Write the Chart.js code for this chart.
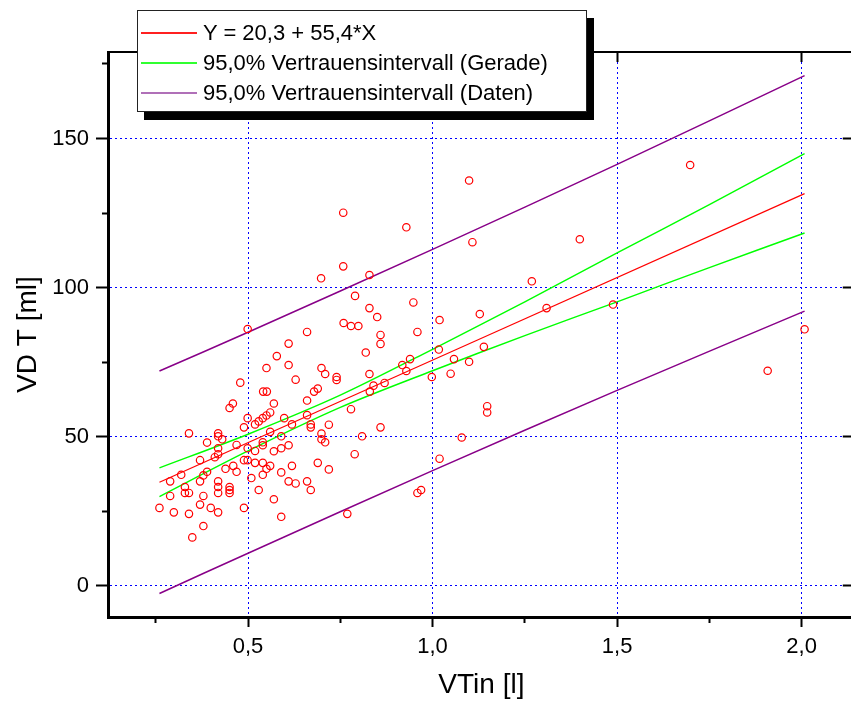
<!DOCTYPE html>
<html>
<head>
<meta charset="utf-8">
<script src="https://cdn.jsdelivr.net/npm/chart.js@4/dist/chart.umd.min.js"></script>
<style>
html,body{margin:0;padding:0;background:#fff;overflow:hidden;width:851px;height:701px;}
#wrap{position:relative;width:851px;height:701px;overflow:hidden;}
#c{position:absolute;left:0;top:0;}
#legend{position:absolute;left:137px;top:10px;width:448px;height:100px;border:1px solid #222;background:#fff;box-shadow:7px 8px 0 #000;font-family:"Liberation Sans",Arial,sans-serif;font-size:22px;color:#000;}
.row{position:absolute;left:0;width:440px;height:30px;}
.sw{position:absolute;left:3px;top:14px;width:56px;height:2px;}
.lbl{position:absolute;left:65px;top:0;line-height:30px;white-space:nowrap;}
</style>
</head>
<body>
<div id="wrap">
<canvas id="c" width="860" height="701"></canvas>
<div id="legend"></div>
</div>
<script>
// ---- data ----
const vtin = [0.499,0.610,0.578,0.610,0.550,0.629,0.479,0.541,0.551,0.459,0.450,0.570,0.499,0.489,0.519,0.529,0.540,0.550,0.560,0.598,
0.619,0.340,0.419,0.419,0.430,0.389,0.469,0.419,0.419,0.410,0.370,0.499,0.519,0.540,0.540,0.560,0.570,0.590,0.590,0.610,
0.489,0.499,0.519,0.540,0.560,0.550,0.460,0.439,0.469,0.540,0.509,0.319,0.289,0.329,0.329,0.340,0.370,0.379,0.389,0.419,
0.419,0.419,0.450,0.450,0.450,0.289,0.379,0.529,0.570,0.260,0.370,0.399,0.299,0.340,0.419,0.489,0.379,0.349,0.590,0.610,
0.629,0.590,0.619,0.660,0.670,0.719,0.769,0.829,0.948,0.850,0.759,0.779,0.799,0.660,0.959,0.859,0.859,0.819,0.699,0.709,
0.740,0.740,0.829,0.918,0.939,0.929,0.679,0.689,0.830,0.840,0.870,0.660,0.779,0.660,0.670,0.670,0.719,0.859,0.699,0.699,
0.709,0.809,0.789,0.689,0.959,0.969,0.998,1.017,1.019,1.019,0.758,0.929,1.099,1.108,0.758,0.698,0.829,0.790,1.128,1.698,
1.399,1.269,1.309,1.489,2.008,1.908,1.139,1.058,1.099,1.049,1.148,1.148,1.079];
const vdt = [86.1,81.2,77.0,74.0,73.0,69.1,68.1,65.1,65.1,61.1,59.6,61.1,56.2,53.1,54.1,55.1,56.2,57.1,58.1,56.2,
54.1,51.1,51.1,50.1,49.1,48.0,47.2,46.1,44.1,43.1,42.1,46.1,45.2,47.1,48.1,51.6,45.1,50.1,46.1,47.1,
42.1,42.1,41.2,41.2,40.2,39.2,40.2,39.2,38.2,37.2,36.1,37.2,35.0,33.1,31.1,31.1,35.0,37.0,38.2,35.0,
33.1,31.1,33.1,32.1,31.1,30.1,30.1,32.1,29.0,26.1,27.2,26.1,24.6,24.1,24.6,26.1,20.0,16.2,23.1,35.0,
34.3,38.0,40.2,35.0,32.1,39.0,24.1,93.1,95.0,90.1,88.1,87.1,87.1,85.1,85.1,84.1,81.1,78.2,73.0,71.0,
70.0,69.0,71.0,74.0,76.0,72.0,65.1,66.1,65.1,67.1,68.0,62.1,59.2,57.2,54.1,53.1,54.0,53.1,51.0,49.1,
48.1,50.1,44.1,41.2,31.1,32.1,70.0,79.2,89.1,42.6,125.1,120.2,135.9,115.2,107.1,103.1,104.2,97.2,91.1,141.1,
116.2,102.1,93.1,94.3,86.0,72.1,80.1,76.0,75.1,71.1,60.2,58.1,49.7];

const fitX = [0.260, 2.008];
const fitY = [34.7, 131.5];
const ciX = [0.260, 0.50, 0.75, 1.00, 1.25, 1.50, 1.75, 2.008];
const ciUpper = [39.5, 50.8, 63.9, 79.3, 95.2, 111.6, 127.8, 144.9];
const ciLower = [29.9, 45.2, 59.8, 72.1, 83.9, 95.2, 106.7, 118.3];
const piX = [0.260, 0.50, 1.00, 1.50, 2.008];
const piUpper = [72.0, 85.0, 112.8, 141.3, 171.1];
const piLower = [-2.6, 10.9, 38.6, 65.5, 92.1];

const xMajorTicks = [0.5, 1.0, 1.5, 2.0];
const xTickLabels = ['0,5', '1,0', '1,5', '2,0'];
const xMinorTicks = [0.25, 0.75, 1.25, 1.75];
const yMajorTicks = [0, 50, 100, 150];
const yTickLabels = ['0', '50', '100', '150'];
const yMinorTicks = [25, 75, 125, 175];

const seriesNames = ['Y = 20,3 + 55,4*X', '95,0% Vertrauensintervall (Gerade)', '95,0% Vertrauensintervall (Daten)'];
const seriesColors = ['#ff0000', '#00ff00', '#880088'];
const legendSwatchColors = ['#ff2020', '#30ff30', '#b070b8'];
const xTitle = 'VTin [l]';
const yTitle = 'VD T [ml]';

// ---- legend (HTML overlay) ----
const lg = document.getElementById('legend');
seriesNames.forEach((n, i) => {
  const r = document.createElement('div');
  r.className = 'row';
  r.style.top = (7 + i * 30) + 'px';
  const sw = document.createElement('div');
  sw.className = 'sw';
  sw.style.backgroundColor = legendSwatchColors[i];
  const lb = document.createElement('div');
  lb.className = 'lbl';
  lb.textContent = n;
  r.appendChild(sw);
  r.appendChild(lb);
  lg.appendChild(r);
});

// ---- chart ----
const FONT = '"Liberation Sans", Arial, sans-serif';
const zip = (xs, ys) => xs.map((x, i) => ({x: x, y: ys[i]}));
const setTicks = arr => (s => { s.ticks = arr.map(v => ({value: v})); });
const X_MIN = 0.1206, X_MAX = 2.1441, Y_MIN = -10.5, Y_MAX = 179.0;

const lineDs = (label, xs, ys, color, w) => ({
  label: label, data: zip(xs, ys), showLine: true, borderColor: color, backgroundColor: color,
  borderWidth: w, pointRadius: 0, tension: 0.3, fill: false
});

new Chart(document.getElementById('c'), {
  type: 'scatter',
  data: {
    datasets: [
      {label: 'Daten', data: zip(vtin, vdt), pointStyle: 'circle', pointRadius: 3.7,
       borderColor: '#ff0000', backgroundColor: 'rgba(0,0,0,0)', borderWidth: 1.2, showLine: false},
      lineDs(seriesNames[0], fitX, fitY, seriesColors[0], 1.2),
      lineDs(seriesNames[1] + ' oben', ciX, ciUpper, seriesColors[1], 1.4),
      lineDs(seriesNames[1] + ' unten', ciX, ciLower, seriesColors[1], 1.4),
      lineDs(seriesNames[2] + ' oben', piX, piUpper, seriesColors[2], 1.5),
      lineDs(seriesNames[2] + ' unten', piX, piLower, seriesColors[2], 1.5)
    ]
  },
  options: {
    responsive: false, animation: false, events: [],
    layout: {padding: {left: 0, right: 4, top: 52, bottom: 0}},
    plugins: {legend: {display: false}, tooltip: {enabled: false}},
    scales: {
      x: {
        type: 'linear', position: 'bottom', weight: 1, min: X_MIN, max: X_MAX,
        afterBuildTicks: setTicks(xMajorTicks),
        afterFit: s => { s.height = 84; },
        ticks: {padding: 7, color: '#000', font: {family: FONT, size: 22},
                callback: v => { const i = xMajorTicks.indexOf(v); return i >= 0 ? xTickLabels[i] : ''; }},
        grid: {color: '#0000ff', lineWidth: 1, tickLength: 10, tickColor: '#000', tickWidth: 2},
        border: {display: true, color: '#000', width: 3, dash: [2, 3]},
        title: {display: true, text: xTitle, color: '#000', font: {family: FONT, size: 28, lineHeight: 1}, padding: {top: 0, bottom: 2}}
      },
      xMinor: {
        type: 'linear', position: 'bottom', weight: 0, min: X_MIN, max: X_MAX,
        afterBuildTicks: setTicks(xMinorTicks),
        afterFit: s => { s.height = 0; },
        ticks: {display: false},
        grid: {drawOnChartArea: false, tickLength: 6, tickColor: '#000', tickWidth: 2},
        border: {display: false}
      },
      xTop: {
        type: 'linear', position: 'top', min: X_MIN, max: X_MAX,
        afterBuildTicks: setTicks(xMajorTicks),
        afterFit: s => { s.height = 0; },
        ticks: {display: false},
        grid: {drawOnChartArea: false, tickLength: -10, tickColor: '#000', tickWidth: 2},
        border: {display: true, color: '#000', width: 2}
      },
      y: {
        type: 'linear', position: 'left', weight: 1, min: Y_MIN, max: Y_MAX,
        afterBuildTicks: setTicks(yMajorTicks),
        afterFit: s => { s.width = 108; },
        ticks: {padding: 7, color: '#000', font: {family: FONT, size: 22},
                callback: v => { const i = yMajorTicks.indexOf(v); return i >= 0 ? yTickLabels[i] : ''; }},
        grid: {color: '#0000ff', lineWidth: 1, tickLength: 12, tickColor: '#000', tickWidth: 2},
        border: {display: true, color: '#000', width: 3, dash: [2, 3]},
        title: {display: true, text: yTitle, color: '#000', font: {family: FONT, size: 28}, padding: {top: 11, bottom: 0}}
      },
      yMinor: {
        type: 'linear', position: 'left', weight: 0, min: Y_MIN, max: Y_MAX,
        afterBuildTicks: setTicks(yMinorTicks),
        afterFit: s => { s.width = 0; },
        ticks: {display: false},
        grid: {drawOnChartArea: false, tickLength: 6, tickColor: '#000', tickWidth: 2},
        border: {display: false}
      },
      yRight: {
        type: 'linear', position: 'right', min: Y_MIN, max: Y_MAX,
        afterBuildTicks: setTicks(yMajorTicks),
        afterFit: s => { s.width = 0; },
        ticks: {display: false},
        grid: {drawOnChartArea: false, tickLength: -12, tickColor: '#000', tickWidth: 2},
        border: {display: true, color: '#000', width: 2}
      }
    }
  }
});
</script>
</body>
</html>
